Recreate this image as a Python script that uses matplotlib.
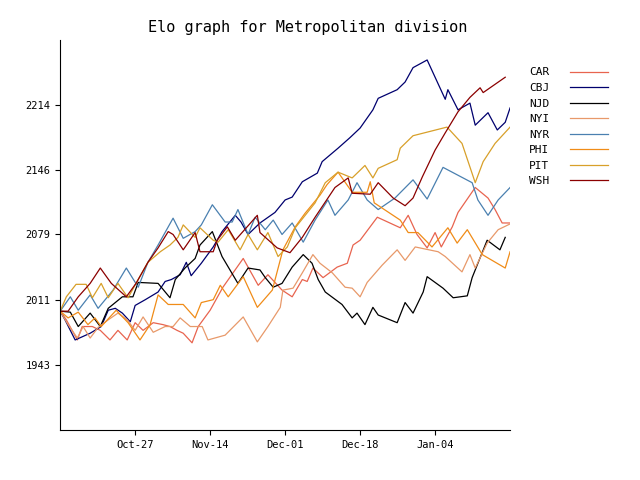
import matplotlib
matplotlib.use("Agg")
import matplotlib.pyplot as plt

plt.rcParams['font.family'] = ['DejaVu Sans Mono']

# days since season start (x) and Elo rating (y) per team
car_days = [0, 1.4, 3.9, 5.0, 7.3, 9.1, 11.3, 13.1, 15.2, 17.0, 18.8, 21.1, 23.3, 24.9, 26.5,
            27.9, 29.9, 31.3, 34.0, 36.9, 41.5, 44.9, 47.1, 50.3, 52.6, 54.9, 56.0, 57.3, 59.6,
            62.8, 65.1, 66.4, 68.0, 71.9, 77.1, 78.9, 80.9, 83.2, 85.0, 86.4, 88.9, 90.2, 94.1,
            97.0, 98.6, 100.2, 102.0]
car_elo = [1999, 1990, 1969, 1983, 1983, 1979, 1969, 1979, 1969, 1987, 1979, 1987, 1985, 1983, 1979,
           1976, 1966, 1983, 2000, 2024, 2054, 2026, 2037, 2021, 2014, 2032, 2030, 2044, 2034,
           2045, 2049, 2068, 2073, 2097, 2086, 2099, 2079, 2065, 2081, 2066, 2087, 2102, 2128,
           2117, 2105, 2091, 2091]

cbj_days = [0, 1.1, 3.4, 6.8, 9.3, 10.9, 12.5, 14.1, 15.9, 17.0, 19.3, 22.2, 23.8, 25.2, 27.2,
            28.6, 29.7, 32.0, 34.7, 36.7, 39.7, 41.0, 42.6, 45.3, 48.7, 51.0, 52.6, 54.9, 58.3,
            59.4, 63.0, 65.7, 68.0, 70.9, 72.1, 76.4, 78.2, 80.0, 83.2, 87.3, 87.9, 90.2, 92.9,
            94.1, 97.0, 99.1, 100.9, 102.0]
cbj_elo = [1999, 1990, 1969, 1976, 1983, 2000, 2002, 1997, 1988, 2005, 2011, 2019, 2030, 2032, 2037,
           2050, 2036, 2049, 2066, 2082, 2099, 2092, 2079, 2091, 2102, 2115, 2118, 2134, 2143,
           2155, 2169, 2180, 2190, 2209, 2221, 2230, 2238, 2253, 2261, 2220, 2230, 2209, 2216,
           2193, 2206, 2188, 2196, 2211]

njd_days = [0, 2.3, 4.1, 6.8, 9.1, 10.9, 14.1, 16.5, 17.7, 22.2, 24.9, 26.1, 28.3, 30.6, 31.7,
            34.5, 36.7, 40.3, 42.6, 45.3, 46.5, 48.3, 50.3, 52.6, 55.1, 57.1, 58.5, 60.1, 63.9,
            66.2, 67.3, 69.1, 70.9, 72.1, 76.4, 78.2, 80.0, 82.3, 83.2, 86.8, 89.1, 92.3, 93.4,
            96.8, 99.7, 100.9]
njd_elo = [1999, 1998, 1983, 1997, 1983, 2002, 2014, 2014, 2029, 2028, 2013, 2032, 2044, 2054, 2068,
           2082, 2056, 2028, 2044, 2042, 2034, 2024, 2028, 2045, 2058, 2049, 2032, 2019, 2006,
           1992, 1997, 1985, 2003, 1995, 1987, 2008, 1997, 2019, 2035, 2023, 2013, 2015, 2034,
           2073, 2063, 2076]

nyi_days = [0, 1.8, 3.9, 5.2, 6.8, 8.6, 10.9, 13.1, 15.2, 17.0, 18.8, 21.1, 23.8, 25.6, 27.2,
            29.5, 32.2, 33.5, 37.4, 41.5, 44.7, 47.1, 49.9, 50.5, 52.8, 54.9, 57.3, 58.9, 61.7,
            64.6, 66.2, 68.0, 69.6, 73.0, 76.4, 78.2, 80.5, 85.7, 87.3, 91.1, 92.9, 94.1, 96.8,
            99.3, 102.0]
nyi_elo = [1999, 1985, 1971, 1983, 1971, 1982, 1990, 1997, 1990, 1979, 1993, 1977, 1983, 1983, 1992,
           1983, 1983, 1969, 1974, 1993, 1967, 1983, 2003, 2021, 2023, 2039, 2058, 2049, 2039,
           2024, 2023, 2014, 2029, 2047, 2063, 2052, 2066, 2061, 2056, 2040, 2058, 2044, 2070,
           2084, 2090]

nyr_days = [0, 2.3, 4.1, 6.8, 8.6, 12.0, 15.0, 17.7, 19.9, 22.2, 25.6, 27.9, 30.6, 32.0, 34.5,
            37.4, 39.0, 40.3, 42.6, 44.2, 46.5, 48.3, 50.3, 52.6, 55.1, 57.8, 60.7, 62.3, 65.3,
            67.3, 69.6, 72.1, 75.9, 80.0, 83.2, 86.8, 93.4, 94.7, 97.0, 99.3, 102.0]
nyr_elo = [1999, 2014, 2000, 2016, 2002, 2021, 2044, 2024, 2050, 2068, 2096, 2075, 2082, 2089, 2110,
           2092, 2092, 2105, 2079, 2097, 2084, 2094, 2079, 2091, 2071, 2094, 2115, 2099, 2115,
           2133, 2115, 2105, 2117, 2136, 2116, 2149, 2133, 2115, 2099, 2115, 2128]

phi_days = [0, 1.8, 4.1, 6.3, 7.9, 9.3, 12.7, 15.4, 18.1, 20.4, 22.2, 24.5, 27.9, 30.6, 32.0,
            34.7, 36.3, 38.1, 41.5, 44.7, 48.1, 50.5, 53.3, 55.5, 58.9, 60.5, 63.0, 66.2, 69.6,
            70.3, 71.2, 77.1, 78.9, 81.1, 84.3, 87.9, 90.0, 92.3, 95.7, 100.9, 102.0]
phi_elo = [1999, 1992, 1998, 1985, 1992, 1983, 2000, 1987, 1969, 1985, 2016, 2006, 2006, 1992, 2008,
           2011, 2026, 2014, 2035, 2003, 2021, 2063, 2087, 2101, 2120, 2131, 2144, 2123, 2123,
           2134, 2112, 2094, 2081, 2081, 2066, 2086, 2070, 2084, 2058, 2044, 2061]

pit_days = [0, 1.4, 3.6, 5.9, 7.3, 9.3, 10.9, 13.1, 15.4, 17.2, 19.9, 22.7, 24.9, 26.7, 27.9,
            30.6, 31.7, 34.7, 35.8, 38.1, 40.8, 42.6, 44.7, 47.1, 49.4, 51.5, 53.3, 57.8, 60.1,
            63.0, 66.2, 68.0, 69.1, 70.9, 72.1, 76.4, 77.1, 80.0, 87.7, 91.1, 94.1, 95.9, 98.6,
            102.0]
pit_elo = [1999, 2014, 2027, 2027, 2013, 2028, 2013, 2028, 2013, 2028, 2050, 2061, 2068, 2076, 2089,
           2076, 2086, 2073, 2071, 2084, 2063, 2079, 2063, 2081, 2056, 2066, 2086, 2112, 2133,
           2144, 2138, 2146, 2151, 2138, 2148, 2157, 2169, 2182, 2191, 2174, 2133, 2155, 2174,
           2191]

wsh_days = [0, 1.8, 4.1, 6.8, 9.1, 11.6, 15.0, 17.2, 19.9, 22.2, 24.5, 25.6, 27.9, 30.6, 31.7,
            34.7, 35.6, 37.9, 39.7, 44.7, 45.3, 49.2, 52.1, 54.9, 57.8, 62.3, 65.3, 66.2, 70.3,
            72.1, 75.5, 78.2, 80.0, 82.1, 85.0, 87.3, 90.2, 92.9, 95.2, 95.9, 100.9]
wsh_elo = [1999, 1999, 2014, 2028, 2044, 2028, 2014, 2028, 2050, 2065, 2082, 2079, 2063, 2081, 2061,
           2061, 2073, 2087, 2073, 2099, 2081, 2065, 2060, 2076, 2097, 2128, 2138, 2122, 2121,
           2133, 2117, 2109, 2117, 2139, 2167, 2185, 2207, 2222, 2232, 2227, 2243]

teams = ['CAR', 'CBJ', 'NJD', 'NYI', 'NYR', 'PHI', 'PIT', 'WSH']
colors = ['#e8644f', '#00006e', '#000000', '#e8996a', '#4a80b0', '#f08c18', '#d8a02a', '#8b0000']
series = [(car_days, car_elo), (cbj_days, cbj_elo), (njd_days, njd_elo), (nyi_days, nyi_elo),
          (nyr_days, nyr_elo), (phi_days, phi_elo), (pit_days, pit_elo), (wsh_days, wsh_elo)]

tick_days = [17, 34, 51, 68, 85]
tick_labels = ['Oct-27', 'Nov-14', 'Dec-01', 'Dec-18', 'Jan-04']
elo_ticks = [1943, 2011, 2079, 2146, 2214]

fig = plt.figure(figsize=(6.4, 4.8), dpi=100)
ax = fig.add_axes([0.094, 0.104, 0.703, 0.813])

for team, color, (d, e) in zip(teams, colors, series):
    ax.plot(d, e, color=color, linewidth=0.9, label=team)

ax.set_xlim(0, 102)
ax.set_ylim(1875, 2282)
ax.set_xticks(tick_days)
ax.set_xticklabels(tick_labels, fontsize=7.5)
ax.set_yticks(elo_ticks)
ax.set_yticklabels([str(v) for v in elo_ticks], fontsize=7.5)
ax.spines['top'].set_visible(False)
ax.spines['right'].set_visible(False)
ax.set_title('Elo graph for Metropolitan division', fontsize=11, x=0.55)

ax.legend(loc='upper left', bbox_to_anchor=(1.02, 0.955), frameon=False, markerfirst=False,
          fontsize=8, handlelength=3.4, labelspacing=0.5, handletextpad=1.9)

plt.savefig('out.png', dpi=100)
plt.close()
